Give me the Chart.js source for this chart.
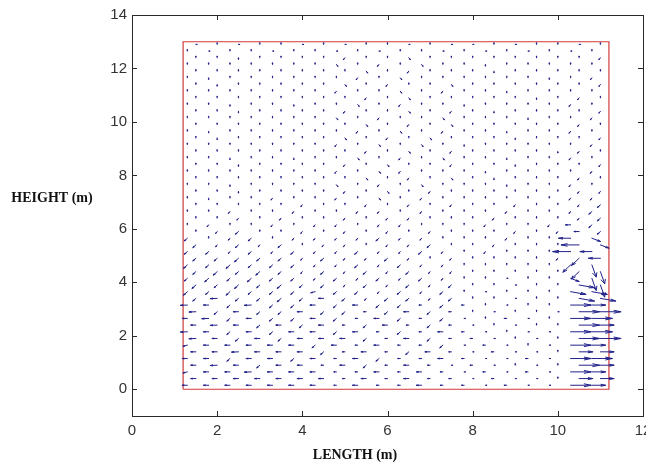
<!DOCTYPE html>
<html>
<head>
<meta charset="utf-8">
<script src="https://cdn.jsdelivr.net/npm/chart.js@4.4.1/dist/chart.umd.min.js"></script>
<style>
  html, body { margin: 0; padding: 0; background: #fff; overflow: hidden; }
  #wrap { width: 646px; height: 468px; overflow: hidden; }
</style>
</head>
<body>
<div id="wrap"><canvas id="quiverChart" width="680" height="468"></canvas></div>
<script>
// Grid of the two staggered point sets (m)
const colsA = [1.3, 1.8, 2.3, 2.8, 3.3, 3.8, 4.3, 4.8, 5.3, 5.8, 6.3, 6.8, 7.3, 7.8, 8.3, 8.8, 9.3, 9.8, 10.3, 10.8];
const colsB = [1.5, 2.0, 2.5, 3.0, 3.5, 4.0, 4.5, 5.0, 5.5, 6.0, 6.5, 7.0, 7.5, 8.0, 8.5, 9.0, 9.5, 10.0, 10.5, 11.0];
const rowsA = [0.15, 0.65, 1.15, 1.65, 2.15, 2.65, 3.15, 3.65, 4.15, 4.65, 5.15, 5.65, 6.15, 6.65, 7.15, 7.65, 8.15, 8.65, 9.15, 9.65, 10.15, 10.65, 11.15, 11.65, 12.15, 12.65];
const rowsB = [0.4, 0.9, 1.4, 1.9, 2.4, 2.9, 3.4, 3.9, 4.4, 4.9, 5.4, 5.9, 6.4, 6.9, 7.4, 7.9, 8.4, 8.9, 9.4, 9.9, 10.4, 10.9, 11.4, 11.9, 12.4, 12.9];

const xTicks = [0, 2, 4, 6, 8, 10, 12];
const yTicks = [0, 2, 4, 6, 8, 10, 12, 14];

// room outline
const roomX = [1.2, 11.2, 11.2, 1.2, 1.2];
const roomY = [0, 0, 13, 13, 0];

// velocity vectors, one code per column, rows bottom -> top
// ('|' only splits the row into column groups)
const codesA = [
  "-------|k-kk-k|k`k``|Rr",
  "~--=---|kk-k-k|`k`k`|Rr",
  "--/--/-|k-/kk-|k``k`|RR",
  "~-----/|-k-kk/|`k`.`|Rr",
  "=-/-/--|/-k/k-|k`.``|RR",
  "-=/-//-|/k-/k/|`.k`.|RR",
  "=-/=//-|/-//k/|k.`..|Rr",
  "%/%///~|//a/a/|.`...|dd",
  "/%/%//a|/a/a/a|..`..|ev",
  "%/%///a|a/a/aa|.....|zv",
  "//a/a/a|a/aa/a|.a...|Ll",
  "/.a/.aa|aa/aa.|..a..|le",
  ".a..a.a|a.aa..|.a..a|-/",
  "..a..a.|.aa.a.|..a..|a/",
  ".,..a..|a.b.a.|.....|aa",
  "..,....|b.a.b.|..,..|a.",
  ".......|a.ba..|.,...|.a",
  "..,..,.|.b.a.b|..,..|a.",
  ".......|a.b.b.|,....|.a",
  ".,.....|.a.b.a|..,..|a.",
  ".......|b.a..b|...,.|.a",
  "..,..,.|.b.a..|,....|a.",
  ".......|a..b.a|..,..|..",
  ".,.....|.a.b..|....,|.a",
  ".......|b.a.b.|.,...|..",
  ".`..`..|`.`..`|.`.`.|`."
];
const codesB = [
  "-------|k-k-kk|`k``.|rr",
  "-=-/--k|-/k-k`|k`.`.|Rr",
  "--=---/|k-k/-k|`k``.|rr",
  "=-/-/--|-/k-/k|k`.`.|RR",
  "-=-/-/-|k/-k/k|`.`..|Rr",
  "=/-//-/|/k/-/k|.`..`|RR",
  "/=//%/-|/a//a/|..`..|dd",
  "%/%/%//|a/a/a/|..`..|dv",
  "/%/%/a/|a/a/aa|.....|zv",
  "//%//a/|aa/a.a|....a|zl",
  "/a/a/.a|a.aa/.|.a...|Le",
  ".a/..a.|a.a.a.|..a.a|-/",
  "..a.a..|a.aa..|.a...|a/",
  ".....a.|.a.a.a|..a..|a/",
  "..,....|a.b.a.|.....|aa",
  ".......|.b.a.b|.,...|a.",
  "..,....|a.b..a|..,..|.a",
  ".......|.a.b.a|....,|a.",
  ".,.....|b.a.b.|..,..|.a",
  ".......|.b.a.b|.....|a.",
  "..,....|a..b.a|.,...|.a",
  ".......|.a.b..|...,.|a.",
  ".,.....|b.a..b|.....|.a",
  ".......|.b.a..|.,...|..",
  "..,....|a..b..|.....|.a",
  "`.`..`.|`..`.`|`.`..|`."
];

// code -> [u, v] drawn length in metres
const vectorCodes = {
  '`': [0.03, 0],
  '.': [0, 0.06],
  ',': [0, -0.06],
  'a': [-0.035, -0.07],
  'b': [0.035, -0.07],
  '/': [-0.07, -0.1],
  '%': [-0.09, -0.13],
  '~': [-0.1, -0.04],
  '-': [-0.12, 0],
  '=': [-0.16, -0.01],
  'k': [-0.06, 0],
  'r': [0.32, 0],
  'R': [0.48, 0],
  'd': [0.36, -0.1],
  'e': [0.2, -0.12],
  'v': [0.1, -0.45],
  'z': [-0.18, -0.27],
  'L': [-0.42, 0],
  'l': [-0.28, 0]
};

// decode the rows into arrows
const arrows = [];
function addArrows(cols, rows, codes) {
  codes.forEach((row, j) => {
    const chars = row.replace(/\|/g, '');
    cols.forEach((x, i) => {
      const vec = vectorCodes[chars.charAt(i)];
      if (vec) arrows.push({ x: x, y: rows[j], u: vec[0], v: vec[1] });
    });
  });
}
addArrows(colsA, rowsA, codesA);
addArrows(colsB, rowsB, codesB);

// quiver arrows drawn like matlab's quiver (head alpha/beta = 0.33)
const quiverPlugin = {
  id: 'quiver',
  afterDatasetsDraw(chart) {
    const { ctx, scales: { x, y } } = chart;
    const alpha = 0.33, beta = 0.33;
    ctx.save();
    ctx.strokeStyle = '#22228a';
    ctx.lineWidth = 1;
    ctx.lineCap = 'round';
    ctx.beginPath();
    arrows.forEach(a => {
      const ex = a.x + a.u, ey = a.y + a.v;
      ctx.moveTo(x.getPixelForValue(a.x), y.getPixelForValue(a.y));
      ctx.lineTo(x.getPixelForValue(ex), y.getPixelForValue(ey));
      const h1x = ex - alpha * (a.u + beta * a.v), h1y = ey - alpha * (a.v - beta * a.u);
      const h2x = ex - alpha * (a.u - beta * a.v), h2y = ey - alpha * (a.v + beta * a.u);
      ctx.moveTo(x.getPixelForValue(h1x), y.getPixelForValue(h1y));
      ctx.lineTo(x.getPixelForValue(ex), y.getPixelForValue(ey));
      ctx.lineTo(x.getPixelForValue(h2x), y.getPixelForValue(h2y));
    });
    ctx.stroke();
    ctx.restore();
  }
};

// axes box with inward ticks on all sides, plus the axis labels
const framePlugin = {
  id: 'frame',
  afterDraw(chart) {
    const { ctx, chartArea: a, scales: { x, y } } = chart;
    const tl = 5;
    ctx.save();
    ctx.strokeStyle = '#2a2a2a';
    ctx.lineWidth = 1;
    ctx.strokeRect(a.left + 0.5, a.top + 0.5, a.right - a.left, a.bottom - a.top);
    ctx.beginPath();
    xTicks.forEach(v => {
      const px = Math.round(x.getPixelForValue(v)) + 0.5;
      ctx.moveTo(px, a.bottom); ctx.lineTo(px, a.bottom - tl);
      ctx.moveTo(px, a.top); ctx.lineTo(px, a.top + tl);
    });
    yTicks.forEach(v => {
      const py = Math.round(y.getPixelForValue(v)) + 0.5;
      ctx.moveTo(a.left, py); ctx.lineTo(a.left + tl, py);
      ctx.moveTo(a.right, py); ctx.lineTo(a.right - tl, py);
    });
    ctx.stroke();

    ctx.fillStyle = '#111';
    ctx.font = 'bold 14px "Liberation Serif", "DejaVu Serif", serif';
    ctx.textAlign = 'center';
    ctx.textBaseline = 'middle';
    ctx.fillText('LENGTH (m)', 355, 455);
    ctx.fillText('HEIGHT (m)', 52, 198);
    ctx.restore();
  }
};

const tickFont = { family: '"Liberation Sans", Arial, sans-serif', size: 15 };

new Chart(document.getElementById('quiverChart'), {
  type: 'scatter',
  data: {
    datasets: [{
      label: 'room',
      data: roomX.map((v, i) => ({ x: v, y: roomY[i] })),
      showLine: true,
      borderColor: '#d23a3a',
      borderWidth: 1.2,
      pointRadius: 0,
      fill: false
    }]
  },
  options: {
    responsive: false,
    animation: false,
    events: [],
    layout: { padding: { left: 0, right: 37, top: 15, bottom: 0 } },
    plugins: { legend: { display: false }, tooltip: { enabled: false } },
    scales: {
      x: {
        type: 'linear',
        min: 0,
        max: 12,
        afterBuildTicks: s => { s.ticks = xTicks.map(v => ({ value: v })); },
        afterFit: s => { s.height = 52; },
        grid: { display: false, drawTicks: false },
        border: { display: false },
        ticks: { color: '#333', font: tickFont, padding: 6, maxRotation: 0 }
      },
      y: {
        type: 'linear',
        min: -1,
        max: 14,
        afterBuildTicks: s => { s.ticks = yTicks.map(v => ({ value: v })); },
        afterFit: s => { s.width = 132; },
        grid: { display: false, drawTicks: false },
        border: { display: false },
        ticks: { color: '#333', font: tickFont, padding: 5 }
      }
    }
  },
  plugins: [quiverPlugin, framePlugin]
});
</script>
</body>
</html>
